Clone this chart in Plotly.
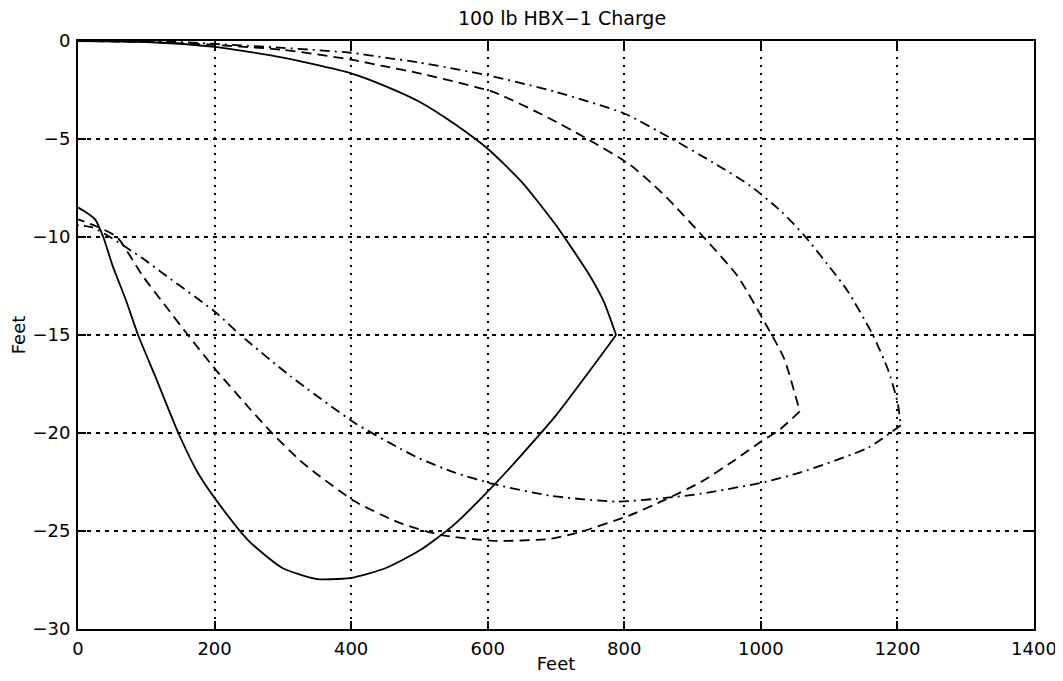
import plotly.graph_objects as go

# ---- Data (feet) ----
# Solid curve: upper branch (origin -> tip) and lower branch (tip -> x=0)
solid_up_x = [0, 100, 200, 300, 400, 450, 500, 550, 600, 650, 700, 750, 770, 788]
solid_up_y = [0, -0.05, -0.3, -0.85, -1.65, -2.3, -3.1, -4.2, -5.5, -7.2, -9.4, -12.0, -13.3, -15.0]
solid_lo_x = [788, 750, 700, 650, 608, 550, 500, 450, 406, 380, 350, 300, 250, 204, 175, 147, 113, 88, 70, 51, 37, 25, 10, 0]
solid_lo_y = [-15.0, -16.8, -19.1, -21.1, -22.7, -24.7, -26.0, -26.9, -27.35, -27.45, -27.45, -26.9, -25.5, -23.5, -22.0, -20.0, -17.1, -15.0, -13.2, -11.5, -10.0, -9.1, -8.7, -8.5]

# Dashed curve
dash_up_x = [0, 100, 200, 300, 400, 450, 500, 608, 688, 746, 808, 843, 868, 916, 966, 1008, 1034, 1057]
dash_up_y = [0, -0.05, -0.2, -0.45, -0.95, -1.3, -1.65, -2.6, -3.9, -5.0, -6.3, -7.35, -8.2, -10.0, -12.0, -14.5, -16.2, -18.9]
dash_lo_x = [1057, 1025, 1006, 961, 912, 860, 808, 740, 692, 608, 531, 472, 406, 350, 325, 284, 250, 200, 161, 130, 95, 57, 30, 0]
dash_lo_y = [-18.9, -19.9, -20.3, -21.4, -22.5, -23.4, -24.2, -25.0, -25.4, -25.5, -25.2, -24.6, -23.5, -22.1, -21.4, -20.0, -18.7, -16.7, -15.0, -13.6, -12.0, -10.0, -9.5, -9.1]

# Dash-dot curve
dd_up_x = [0, 150, 200, 300, 400, 450, 500, 600, 700, 800, 870, 930, 985, 1030, 1063, 1100, 1127, 1164, 1186, 1200, 1205]
dd_up_y = [0, -0.05, -0.15, -0.35, -0.6, -0.85, -1.1, -1.75, -2.6, -3.7, -5.0, -6.2, -7.4, -8.7, -9.9, -11.5, -12.75, -15.0, -16.75, -18.4, -19.6]
dd_lo_x = [1205, 1157, 1059, 1006, 912, 863, 790, 692, 608, 550, 500, 472, 406, 311, 238, 200, 130, 95, 47, 20, 0]
dd_lo_y = [-19.6, -20.75, -22.0, -22.5, -23.1, -23.3, -23.5, -23.2, -22.6, -22.0, -21.3, -20.8, -19.5, -17.1, -15.0, -13.8, -12.0, -11.1, -10.0, -9.5, -9.4]

x_ticks = [0, 200, 400, 600, 800, 1000, 1200, 1400]
y_ticks = [0, -5, -10, -15, -20, -25, -30]
y_tick_labels = ["0", "\u22125", "\u221210", "\u221215", "\u221220", "\u221225", "\u221230"]

title_text = "100 lb HBX\u22121 Charge"
x_label = "Feet"
y_label = "Feet"

# ---- Figure ----
fig = go.Figure()
styles = [
    ((solid_up_x, solid_up_y), (solid_lo_x, solid_lo_y), "solid"),
    ((dash_up_x, dash_up_y), (dash_lo_x, dash_lo_y), "10px,6px"),
    ((dd_up_x, dd_up_y), (dd_lo_x, dd_lo_y), "10px,5px,2px,5px"),
]
for up, lo, dash in styles:
    for xs, ys in (up, lo):
        fig.add_trace(go.Scatter(x=xs, y=ys, mode="lines",
                                 line=dict(color="black", width=1.8, dash=dash,
                                           shape="spline", smoothing=0.6),
                                 showlegend=False, hoverinfo="skip"))

font_family = "DejaVu Sans, Liberation Sans, Arial, sans-serif"
W, H = 1055, 673  # page body has an 8px margin
fig.update_layout(
    template="none",
    width=W, height=H,
    margin=dict(l=70, r=29, t=33, b=52, autoexpand=False),
    paper_bgcolor="white", plot_bgcolor="white",
    font=dict(family=font_family, size=18, color="black"),
    title=dict(text=title_text, xref="container", x=554 / W, xanchor="center",
               yref="container", y=1 - 10 / H, yanchor="middle",
               font=dict(size=19, color="black")),
)
fig.update_xaxes(range=[0, 1400], tickvals=x_ticks, ticktext=[str(v) for v in x_ticks],
                 automargin=False,
                 showline=True, linecolor="black", linewidth=2, mirror="ticks",
                 ticks="inside", ticklen=8, tickwidth=1.5, tickcolor="black",
                 showgrid=True, gridcolor="black", gridwidth=1.5, griddash="2px,6px",
                 zeroline=False, ticklabelstandoff=2,
                 title=dict(text=x_label, standoff=0, font=dict(size=18)))
fig.update_yaxes(range=[-30, 0], tickvals=y_ticks, ticktext=y_tick_labels,
                 automargin=False,
                 showline=True, linecolor="black", linewidth=2, mirror="ticks",
                 ticks="inside", ticklen=8, tickwidth=1.5, tickcolor="black",
                 showgrid=True, gridcolor="black", gridwidth=1.5, griddash="4px,5px",
                 zeroline=False, ticklabelstandoff=2,
                 title=dict(text=y_label, standoff=10, font=dict(size=18)))

fig.write_html("out.html")
